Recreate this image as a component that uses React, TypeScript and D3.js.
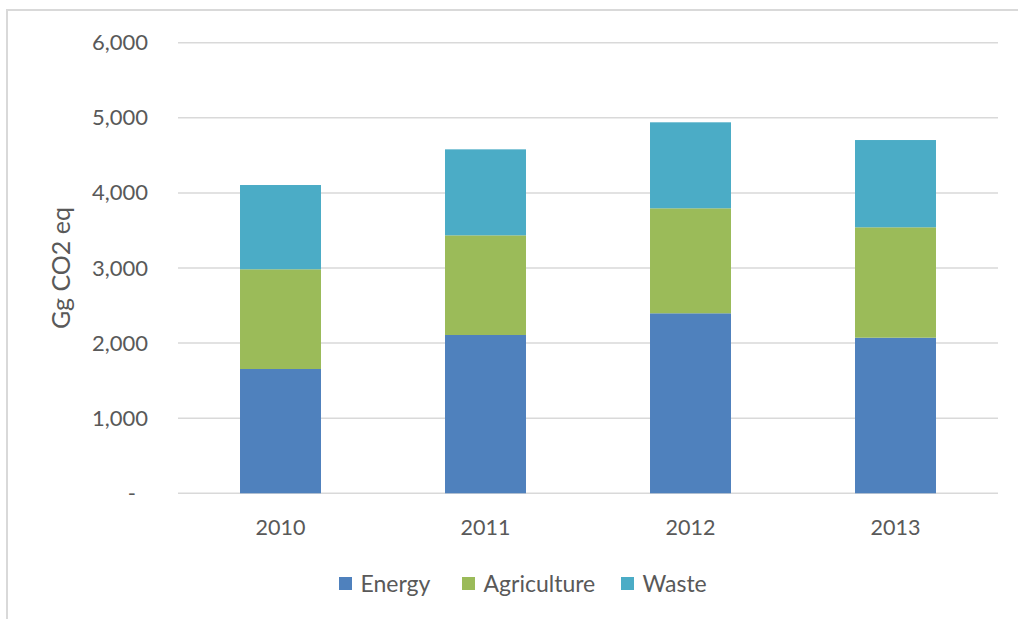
import { useEffect, useRef } from 'react';
import * as d3 from 'd3';

const years = ['2010', '2011', '2012', '2013'];
const energy = [1655, 2108, 2397, 2072];
const agriculture = [1328, 1327, 1398, 1470];
const waste = [1122, 1145, 1145, 1162];
const seriesNames = ['Energy', 'Agriculture', 'Waste'];
const seriesColors = ['#4F81BD', '#9BBB59', '#4BACC6'];
const yTicks = [0, 1000, 2000, 3000, 4000, 5000, 6000];

const W = 1018;
const H = 619;
const FONT = 'Lato, "Open Sans", sans-serif';

export default function App() {
  const svgRef = useRef(null);

  useEffect(() => {
    const svg = d3.select(svgRef.current);
    svg.selectAll('*').remove();

    const left = 178, right = 998, top = 42.7, bottom = 493.3;

    // outer frame (only top and left are visible, the rest is cut off)
    svg.append('path')
      .attr('d', `M7,${H} L7,10 L${W},10`)
      .attr('fill', 'none')
      .attr('stroke', '#d9d9d9')
      .attr('stroke-width', 2);

    const x = d3.scaleBand().domain(years).range([left, right]).paddingInner(0.605).paddingOuter(0.3025);
    const y = d3.scaleLinear().domain([0, 6000]).range([bottom, top]);

    // gridlines
    svg.append('g')
      .selectAll('line')
      .data(yTicks)
      .enter()
      .append('line')
      .attr('x1', left)
      .attr('x2', right)
      .attr('y1', d => y(d))
      .attr('y2', d => y(d))
      .attr('stroke', '#d9d9d9')
      .attr('stroke-width', 1.5);

    // y axis labels
    const yAxis = svg.append('g')
      .attr('transform', `translate(${left}, 0)`)
      .call(d3.axisLeft(y).tickValues(yTicks).tickSize(0).tickPadding(30)
        .tickFormat(d => (d === 0 ? '-' : d3.format(',')(d))));
    yAxis.select('.domain').remove();
    yAxis.selectAll('text')
      .attr('fill', '#595959')
      .style('font-family', FONT)
      .style('font-size', '22px')
      .attr('dx', d => (d === 0 ? -12 : 0));

    // stacked bars
    const rows = years.map((yr, i) => ({ year: yr, Energy: energy[i], Agriculture: agriculture[i], Waste: waste[i] }));
    const stack = d3.stack().keys(seriesNames)(rows);
    svg.append('g')
      .selectAll('g')
      .data(stack)
      .enter()
      .append('g')
      .attr('fill', (d, i) => seriesColors[i])
      .selectAll('rect')
      .data(d => d)
      .enter()
      .append('rect')
      .attr('x', d => x(d.data.year))
      .attr('width', x.bandwidth())
      .attr('y', d => y(d[1]))
      .attr('height', d => y(d[0]) - y(d[1]));

    // x axis labels
    svg.append('g')
      .selectAll('text')
      .data(years)
      .enter()
      .append('text')
      .attr('x', d => x(d) + x.bandwidth() / 2)
      .attr('y', 535)
      .attr('text-anchor', 'middle')
      .attr('fill', '#595959')
      .style('font-family', FONT)
      .style('font-size', '21.5px')
      .text(d => d);

    // y title
    svg.append('text')
      .attr('transform', 'translate(70, 268) rotate(-90)')
      .attr('text-anchor', 'middle')
      .attr('fill', '#595959')
      .style('font-family', FONT)
      .style('font-size', '25px')
      .text('Gg CO2 eq');

    // legend
    const legendX = [339, 462, 621];
    const legend = svg.append('g');
    seriesNames.forEach((name, i) => {
      const g = legend.append('g').attr('transform', `translate(${legendX[i]}, 577)`);
      g.append('rect')
        .attr('width', 13)
        .attr('height', 13)
        .attr('fill', seriesColors[i]);
      g.append('text')
        .attr('x', 21.5)
        .attr('y', 15)
        .attr('fill', '#595959')
        .style('font-family', FONT)
        .style('font-size', '23px')
        .text(name);
    });
  }, []);

  return (
    <svg ref={svgRef} width={W} height={H}
      style={{ position: 'absolute', left: 0, top: 0, background: '#fff' }}></svg>
  );
}
